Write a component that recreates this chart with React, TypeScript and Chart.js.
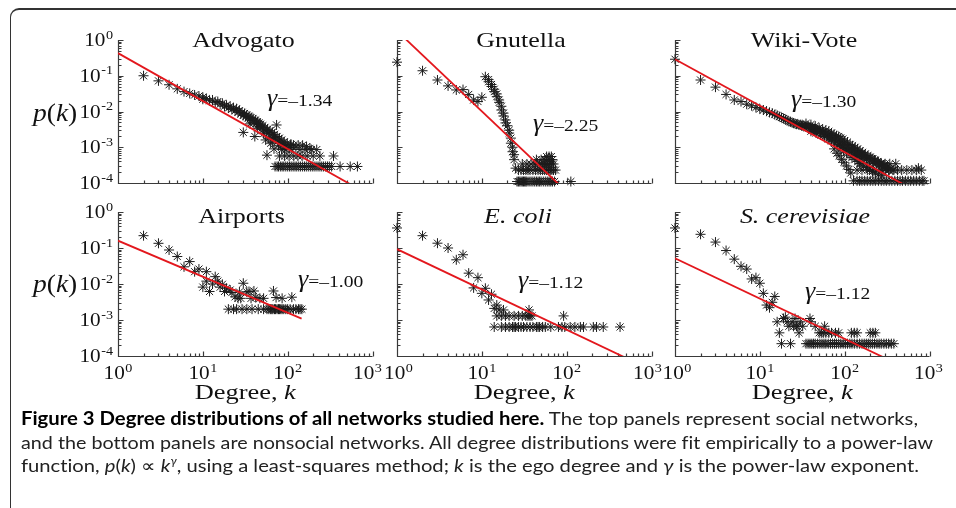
import { useEffect, useLayoutEffect, useRef } from 'react';
import { Chart, registerables } from 'chart.js';
Chart.register(...registerables);

// ---------------- data ----------------
const X_DECADES = [1, 10, 100, 1000];
const X_EXP = ['0', '1', '2', '3'];
const Y_DECADES = [1e-4, 1e-3, 1e-2, 1e-1, 1];
const Y_EXP = ['-4', '-3', '-2', '-1', '0'];
const MINOR_STEPS = [2, 3, 4, 5, 6, 7, 8, 9];

const TITLES = ['Advogato', 'Gnutella', 'Wiki-Vote', 'Airports', 'E. coli', 'S. cerevisiae'];
const GAMMAS = [-1.34, -2.25, -1.3, -1.0, -1.12, -1.12];
const FIT_AMPLITUDE = [0.43, 1.8, 0.29, 0.16, 0.093, 0.052];
const FIT_K_RANGE: [number, number][] = [[1, 1000], [1, 100], [1, 1000], [1, 146], [1, 1000], [1, 1000]];

const ADVOGATO: [number, number][] = [
  [2, 0.10], [3, 0.072], [4, 0.056], [5, 0.043], [6, 0.036], [7, 0.032], [8, 0.029], [9, 0.027], [10, 0.025], [10, 0.022],
  [11, 0.023], [12, 0.020], [13, 0.021], [14, 0.018], [15, 0.019], [16, 0.016], [17, 0.017], [18, 0.014], [19, 0.015], [20, 0.0125],
  [21, 0.014], [22, 0.0115], [23, 0.0125], [24, 0.0105], [25, 0.012], [26, 0.0095], [27, 0.0105], [28, 0.0085], [29, 0.0095], [30, 0.0078],
  [30, 0.0026], [31, 0.0088], [32, 0.0072], [33, 0.008], [34, 0.0066], [35, 0.0074], [36, 0.0061], [37, 0.0068], [38, 0.0056], [39, 0.0064],
  [40, 0.005], [41, 0.002], [42, 0.0058], [43, 0.0046], [44, 0.0052], [45, 0.0042], [46, 0.0048], [47, 0.0038], [48, 0.0044], [50, 0.0035],
  [51, 0.004], [52, 0.0031], [54, 0.0036], [55, 0.0016], [56, 0.0028], [57, 0.0006], [58, 0.0032], [60, 0.0025], [62, 0.0029], [63, 0.0013],
  [64, 0.0022], [66, 0.0026], [68, 0.0019], [69, 0.0009], [70, 0.0023], [72, 0.0017], [74, 0.0042], [75, 0.002], [77, 0.0015], [80, 0.0018],
  [82, 0.0013], [85, 0.0016], [88, 0.0012], [91, 0.0014], [95, 0.0011], [99, 0.0013], [104, 0.00098], [110, 0.0012], [117, 0.00115], [125, 0.001],
  [133, 0.00115], [167, 0.00104], [183, 0.00093], [36, 0.0045], [44, 0.0034], [52, 0.0024], [60, 0.0018], [66, 0.0014], [78, 0.0011], [92, 0.0009],
];
const ADVOGATO_LEVELS = [0.00029, 0.00057, 0.00086, 0.00114];
const ADVOGATO_LEVEL_K = [
  [71, 75, 78, 82, 86, 90, 95, 100, 105, 110, 116, 122, 128, 135, 142, 150, 158, 166, 175, 185, 195, 205, 216, 228, 240, 252, 265, 280, 295, 310, 330, 415, 546, 664],
  [80, 92, 104, 118, 132, 148, 170, 200, 240, 347],
  [85, 96, 112, 140, 160, 190, 220],
  [88, 108, 150],
];

const GNUTELLA: [number, number][] = [
  [1, 0.24], [2, 0.138], [3, 0.076], [4, 0.052], [5, 0.04], [6, 0.041], [7, 0.03], [8, 0.021], [9, 0.019], [10, 0.025],
  [11, 0.094], [12, 0.078], [12, 0.068], [13, 0.057], [13, 0.05], [14, 0.042], [14, 0.036], [15, 0.031], [15, 0.026], [16, 0.021],
  [16, 0.018], [17, 0.014], [17, 0.011], [18, 0.009], [18, 0.0075], [19, 0.0058], [19, 0.0048], [20, 0.004], [21, 0.003], [21, 0.0025],
  [22, 0.0018], [22, 0.0013], [23, 0.001], [23, 0.00075], [24, 0.00062], [24, 0.00045], [25, 0.00026],
];
const GNUTELLA_LEVELS = [0.00011, 0.00023, 0.00034, 0.00045, 0.00055];
const GNUTELLA_LEVEL_K = [
  [26, 27, 28, 29, 30, 31, 32, 33, 34, 36, 38, 40, 42, 44, 46, 48, 50, 53, 56, 59, 62, 65, 68, 72, 112],
  [27, 29, 31, 33, 35, 37, 40, 43, 46, 49, 52, 55, 58, 61, 64, 67, 70, 74],
  [30, 34, 38, 42, 45, 48, 51, 54, 57, 60, 63, 66, 70],
  [44, 50, 55, 60, 64, 68],
  [58, 62, 66],
];

const WIKIVOTE: [number, number][] = [
  [1, 0.29], [2, 0.076], [3, 0.048], [4, 0.03], [5, 0.021], [6, 0.019], [7, 0.016], [8, 0.0145], [9, 0.013], [10, 0.0118],
  [11, 0.011], [12, 0.0102], [13, 0.0094], [14, 0.009], [15, 0.0082], [16, 0.0078], [17, 0.0072], [18, 0.0068], [19, 0.0064], [20, 0.006],
  [21, 0.0056], [22, 0.0053], [23, 0.0052], [24, 0.0049], [25, 0.0047], [26, 0.0046], [27, 0.0044], [28, 0.0045], [29, 0.0042], [30, 0.0043],
  [31, 0.004], [32, 0.0041], [33, 0.0038], [34, 0.004], [35, 0.0037], [36, 0.0039], [37, 0.0036], [38, 0.0037], [39, 0.0034], [40, 0.0036],
  [41, 0.0033], [42, 0.0034], [43, 0.0031], [44, 0.0033], [45, 0.003], [46, 0.0032], [47, 0.0028], [48, 0.003], [50, 0.0027], [52, 0.0029],
  [54, 0.0025], [56, 0.0027], [58, 0.0023], [60, 0.0025], [62, 0.0021], [64, 0.0023], [66, 0.0019], [68, 0.0021], [70, 0.0017], [72, 0.0019],
  [75, 0.0016], [78, 0.0018], [81, 0.0014], [84, 0.0016], [87, 0.0012], [90, 0.0014], [94, 0.0011], [98, 0.0013], [102, 0.00095], [106, 0.0011],
  [110, 0.00085], [115, 0.00095], [120, 0.00075], [125, 0.00085], [130, 0.00065], [135, 0.00075], [140, 0.0006], [146, 0.0007], [152, 0.00055], [158, 0.00062],
  [165, 0.0005], [172, 0.00058], [180, 0.00046], [188, 0.00052], [196, 0.00042], [205, 0.00048], [215, 0.00038], [225, 0.00044], [235, 0.00035], [245, 0.0004],
  [256, 0.00032], [268, 0.00036], [280, 0.00028], [292, 0.00032], [305, 0.00025], [320, 0.00028], [335, 0.00023], [350, 0.00025], [370, 0.00023],
  [75, 0.0009], [81, 0.00068], [86, 0.00058], [92, 0.00046], [98, 0.00038], [105, 0.0003], [112, 0.00024], [118, 0.00019], [740, 0.00026],
];
const WIKIVOTE_UPPER: [number, number][] = [
  [35, 0.0046], [40, 0.0043], [45, 0.0039], [50, 0.0035], [55, 0.0032], [60, 0.003], [65, 0.0028], [70, 0.0025], [75, 0.0023], [80, 0.0021],
  [85, 0.002], [90, 0.0018], [95, 0.0017], [100, 0.0015], [108, 0.0014], [116, 0.0012], [124, 0.0011], [133, 0.001], [142, 0.0009], [152, 0.0008],
  [163, 0.00072], [175, 0.00065], [188, 0.00058], [200, 0.00053], [215, 0.00048], [230, 0.00043], [250, 0.00038], [270, 0.00034], [290, 0.0003], [310, 0.00027],
];
const WIKIVOTE_LOWER: [number, number][] = [
  [40, 0.0028], [46, 0.0025], [52, 0.0022], [58, 0.002], [64, 0.0017], [70, 0.0015], [76, 0.0013], [83, 0.0011], [90, 0.00095], [97, 0.0008],
  [105, 0.0007], [113, 0.0006], [122, 0.00052], [132, 0.00045], [143, 0.0004], [155, 0.00035], [168, 0.0003], [182, 0.00027], [197, 0.00024], [213, 0.00021],
  [230, 0.00019], [250, 0.00017], [275, 0.00016], [100, 0.0012], [110, 0.001], [120, 0.0009], [130, 0.0008], [140, 0.0007], [150, 0.00062], [160, 0.00056],
];
const WIKIVOTE_LEVELS = [0.000115, 0.00023, 0.000345];
const WIKIVOTE_LEVEL_K = [
  [127, 140, 150, 160, 172, 185, 200, 215, 230, 250, 270, 290, 310, 335, 360, 390, 420, 450, 480, 520, 560, 600, 650, 700, 760, 820, 860],
  [140, 160, 185, 210, 240, 270, 300, 330, 380, 420, 470, 540, 620, 700, 800],
  [150, 180, 220, 260, 300, 340, 400],
];

const AIRPORTS: [number, number][] = [
  [2, 0.22], [3, 0.135], [4, 0.088], [5, 0.058], [6, 0.03], [7, 0.042], [8, 0.022], [9, 0.026], [10, 0.0082], [11, 0.022],
  [11, 0.012], [12, 0.0062], [13, 0.01], [14, 0.016], [15, 0.012], [16, 0.0082], [17, 0.0098], [18, 0.0062], [19, 0.0076], [21, 0.0068],
  [22, 0.0058], [24, 0.0044], [26, 0.004], [27, 0.006], [28, 0.004], [30, 0.0105], [33, 0.006], [35, 0.0062], [37, 0.004], [40, 0.0064],
  [42, 0.0042], [47, 0.004], [52, 0.004], [68, 0.0064], [73, 0.0042], [86, 0.004], [112, 0.0043],
];
const AIRPORTS_LEVELS = [0.002];
const AIRPORTS_LEVEL_K = [
  [20, 23, 25, 29, 33, 38, 45, 52, 57, 60, 63, 65, 67, 70, 72, 75, 78, 80, 83, 86, 90, 95, 100, 107, 117, 125, 134, 140, 147],
];

const ECOLI: [number, number][] = [
  [1, 0.36], [2, 0.22], [3, 0.136], [4, 0.1], [5, 0.047], [6, 0.065], [7, 0.02], [8, 0.0078], [9, 0.015], [10, 0.0055],
  [11, 0.0076], [12, 0.0036], [13, 0.0052], [14, 0.0021], [15, 0.0026], [16, 0.0019], [18, 0.0019], [36, 0.0019], [92, 0.0013],
];
const ECOLI_LEVELS = [0.00064, 0.0013];
const ECOLI_LEVEL_K = [
  [14, 17, 19, 21, 23, 24, 25, 27, 29, 31, 34, 37, 40, 44, 46, 48, 52, 56, 65, 80, 88, 95, 110, 125, 145, 158, 206, 225, 270, 426],
  [15, 17, 19, 21, 24, 27, 30, 33, 35, 37, 39],
];

const SCEREVISIAE: [number, number][] = [
  [1, 0.36], [2, 0.24], [3, 0.146], [4, 0.085], [5, 0.049], [6, 0.031], [7, 0.026], [8, 0.0138], [9, 0.015], [10, 0.0105],
  [11, 0.0055], [12, 0.0026], [13, 0.0022], [14, 0.0031], [15, 0.0045], [16, 0.00089], [17, 0.00044], [18, 0.00022], [19, 0.0011], [20, 0.0012],
  [21, 0.00089], [22, 0.00067], [23, 0.00022], [24, 0.00089], [25, 0.00067], [26, 0.0011], [27, 0.00067], [28, 0.00067], [29, 0.00044], [30, 0.00089],
  [32, 0.00067], [39, 0.0011],
];
const SCEREVISIAE_LEVELS = [0.00022, 0.00044, 0.00067, 0.00089];
const SCEREVISIAE_LEVEL_K = [
  [35, 37, 39, 41, 43, 45, 48, 51, 54, 57, 60, 64, 68, 72, 76, 80, 85, 90, 96, 102, 108, 115, 122, 130, 140, 150, 160, 170, 180, 190, 200, 212, 225, 240, 255, 270, 290, 310, 330, 355, 380],
  [50, 53, 56, 60, 65, 70, 78, 85, 120, 130, 140, 200, 215, 230],
  [45, 58],
  [40],
];

const CAPTION_BOLD = 'Figure 3 Degree distributions of all networks studied here.';
const CAPTION_L1 = ' The top panels represent social networks,';
const CAPTION_L2 = 'and the bottom panels are nonsocial networks. All degree distributions were fit empirically to a power-law';

// ---------------- layout / style ----------------
const SERIF = '"Liberation Serif", "Times New Roman", serif';
const SX = 1.18;
const INK = '#111';
const AXIS = '#3a3a3a';
const RED = '#e3171d';
const MARK = '#1c1c1c';

type Layout = {
  area: [number, number, number, number];
  title: [number, number];
  italic: boolean;
  gamma: [number, number];
  yLabels: boolean;
  xLabels: boolean;
  pkY: number;
  xLabelShift: [number, number];
};
const LAYOUTS: Layout[] = [
  { area: [118, 40, 372.5, 183], title: [243.5, 47], italic: false, gamma: [267, 106], yLabels: true, xLabels: false, pkY: 120.5, xLabelShift: [0, 0] },
  { area: [397, 40, 651.5, 183], title: [521, 47], italic: false, gamma: [533, 131], yLabels: false, xLabels: false, pkY: 0, xLabelShift: [0, 0] },
  { area: [675, 40, 929.5, 183], title: [804, 47], italic: false, gamma: [791, 107], yLabels: false, xLabels: false, pkY: 0, xLabelShift: [0, 0] },
  { area: [118, 212, 372.5, 356], title: [241.5, 223], italic: false, gamma: [298, 286.5], yLabels: true, xLabels: true, pkY: 292, xLabelShift: [0, -5] },
  { area: [397, 212, 651.5, 356], title: [518, 223], italic: true, gamma: [518, 288], yLabels: false, xLabels: true, pkY: 0, xLabelShift: [1.5, -4] },
  { area: [675, 212, 929.5, 356], title: [805, 223], italic: true, gamma: [805, 299], yLabels: false, xLabels: true, pkY: 0, xLabelShift: [2, -1] },
];

const SERIES: [number, number][][][] = [[ADVOGATO], [GNUTELLA], [WIKIVOTE, WIKIVOTE_UPPER, WIKIVOTE_LOWER], [AIRPORTS], [ECOLI], [SCEREVISIAE]];
const SERIES_LEVELS = [ADVOGATO_LEVELS, GNUTELLA_LEVELS, WIKIVOTE_LEVELS, AIRPORTS_LEVELS, ECOLI_LEVELS, SCEREVISIAE_LEVELS];
const SERIES_LEVEL_K = [ADVOGATO_LEVEL_K, GNUTELLA_LEVEL_K, WIKIVOTE_LEVEL_K, AIRPORTS_LEVEL_K, ECOLI_LEVEL_K, SCEREVISIAE_LEVEL_K];

// ---------------- text helpers ----------------
function measure(ctx: CanvasRenderingContext2D, s: string, font: string) {
  ctx.save();
  ctx.font = font;
  const w = ctx.measureText(s).width;
  ctx.restore();
  return w;
}
function txt(ctx: CanvasRenderingContext2D, s: string, x: number, y: number, font: string, sx: number) {
  ctx.save();
  ctx.font = font;
  ctx.textAlign = 'left';
  ctx.textBaseline = 'alphabetic';
  ctx.fillStyle = INK;
  ctx.translate(x, y);
  ctx.scale(sx, 1);
  ctx.fillText(s, 0, 0);
  ctx.restore();
  return measure(ctx, s, font) * sx;
}
const F10 = `18px ${SERIF}`;
const FEXP = `12px ${SERIF}`;
function powWidth(ctx: CanvasRenderingContext2D, e: string) {
  return measure(ctx, '10', F10) * SX + 0.5 + measure(ctx, e, FEXP) * SX;
}
function drawPow(ctx: CanvasRenderingContext2D, e: string, left: number, base: number) {
  const w = txt(ctx, '10', left, base, F10, SX);
  txt(ctx, e, left + w + 0.5, base - 7.5, FEXP, SX);
}

function makePlugin(idx: number) {
  const L = LAYOUTS[idx];
  return {
    id: 'panelDecor' + idx,
    beforeDatasetsDraw(chart: any) {
      const { ctx, chartArea: a, scales } = chart;
      const xs = scales.x, ys = scales.y;
      const left = Math.round(a.left) + 0.5;
      const bottom = Math.round(a.bottom) + 0.5;
      ctx.save();
      ctx.strokeStyle = AXIS;
      ctx.lineWidth = 1.2;
      ctx.beginPath();
      ctx.moveTo(left, a.top);
      ctx.lineTo(left, bottom);
      ctx.lineTo(a.right, bottom);
      Y_DECADES.forEach((d, i) => {
        const py = Math.round(ys.getPixelForValue(d)) + 0.5;
        ctx.moveTo(left, py);
        ctx.lineTo(left + 5, py);
        if (i < Y_DECADES.length - 1) {
          MINOR_STEPS.forEach((m) => {
            const p = Math.round(ys.getPixelForValue(d * m)) + 0.5;
            ctx.moveTo(left, p);
            ctx.lineTo(left + 3, p);
          });
        }
      });
      X_DECADES.forEach((d, i) => {
        const px = Math.round(xs.getPixelForValue(d)) + 0.5;
        ctx.moveTo(px, bottom);
        ctx.lineTo(px, bottom - 5);
        if (i < X_DECADES.length - 1) {
          MINOR_STEPS.forEach((m) => {
            const p = Math.round(xs.getPixelForValue(d * m)) + 0.5;
            ctx.moveTo(p, bottom);
            ctx.lineTo(p, bottom - 3);
          });
        }
      });
      ctx.stroke();
      ctx.restore();
    },
    afterDraw(chart: any) {
      const { ctx, chartArea: a, scales } = chart;
      const xs = scales.x, ys = scales.y;
      const tFont = `${L.italic ? 'italic ' : ''}22px ${SERIF}`;
      const tw = measure(ctx, TITLES[idx], tFont) * SX;
      txt(ctx, TITLES[idx], L.title[0] - tw / 2, L.title[1], tFont, SX);
      const gw = txt(ctx, 'γ', L.gamma[0], L.gamma[1], `italic 26px ${SERIF}`, 1);
      const gs = '=–' + Math.abs(GAMMAS[idx]).toFixed(2);
      txt(ctx, gs, L.gamma[0] + gw, L.gamma[1], `17px ${SERIF}`, 1.15);
      if (L.yLabels) {
        Y_DECADES.forEach((d, i) => {
          const py = ys.getPixelForValue(d);
          const w = powWidth(ctx, Y_EXP[i]);
          drawPow(ctx, Y_EXP[i], a.left - 5 - w, py + 6);
        });
        let x = 33;
        const fi = `italic 25px ${SERIF}`, fn = `25px ${SERIF}`;
        x += txt(ctx, 'p', x, L.pkY, fi, 1.1);
        x += txt(ctx, '(', x, L.pkY, fn, 1.1);
        x += txt(ctx, 'k', x, L.pkY, fi, 1.1);
        txt(ctx, ')', x, L.pkY, fn, 1.1);
      }
      if (L.xLabels) {
        X_DECADES.forEach((d, i) => {
          let px = xs.getPixelForValue(d);
          if (i === 0) px += L.xLabelShift[0];
          if (i === X_DECADES.length - 1) px += L.xLabelShift[1];
          const w = powWidth(ctx, X_EXP[i]);
          drawPow(ctx, X_EXP[i], px - w / 2, 379);
        });
        const fn = `22px ${SERIF}`, fi = `italic 22px ${SERIF}`;
        const w = (measure(ctx, 'Degree, ', fn) + measure(ctx, 'k', fi)) * 1.2;
        const cx = (a.left + a.right) / 2;
        const x0 = cx - w / 2;
        const w1 = txt(ctx, 'Degree, ', x0, 399, fn, 1.2);
        txt(ctx, 'k', x0 + w1, 399, fi, 1.2);
      }
    },
  };
}

function Panel({ idx }: { idx: number }) {
  const ref = useRef<HTMLCanvasElement>(null);
  useEffect(() => {
    const L = LAYOUTS[idx];
    const pts: { x: number; y: number }[] = [];
    SERIES[idx].forEach((arr) => arr.forEach(([k, p]) => pts.push({ x: k, y: p })));
    SERIES_LEVELS[idx].forEach((lv, j) => {
      SERIES_LEVEL_K[idx][j].forEach((k) => pts.push({ x: k, y: lv }));
    });
    const [k0, k1] = FIT_K_RANGE[idx];
    const fit = [
      { x: k0, y: FIT_AMPLITUDE[idx] * Math.pow(k0, GAMMAS[idx]) },
      { x: k1, y: FIT_AMPLITUDE[idx] * Math.pow(k1, GAMMAS[idx]) },
    ];
    const chart = new Chart(ref.current!, {
      type: 'scatter',
      data: {
        datasets: [
          {
            type: 'line',
            data: fit,
            borderColor: RED,
            borderWidth: 1.8,
            pointRadius: 0,
            fill: false,
          } as any,
          {
            type: 'scatter',
            data: pts,
            pointStyle: 'star',
            pointRadius: 5,
            pointBorderColor: MARK,
            pointBorderWidth: 1,
            pointBackgroundColor: 'transparent',
            clip: false,
          } as any,
        ],
      },
      options: {
        animation: false,
        responsive: false,
        maintainAspectRatio: false,
        events: [],
        layout: {
          padding: { left: L.area[0], top: L.area[1], right: 956 - L.area[2], bottom: 508 - L.area[3] },
        },
        plugins: { legend: { display: false }, tooltip: { enabled: false } },
        scales: {
          x: { type: 'logarithmic', min: 1, max: 1000, display: false },
          y: { type: 'logarithmic', min: 1e-4, max: 1, display: false },
        },
      },
      plugins: [makePlugin(idx)],
    });
    return () => chart.destroy();
  }, [idx]);
  return (
    <canvas
      ref={ref}
      width={956}
      height={508}
      style={{ position: 'absolute', left: 0, top: 0, width: 956, height: 508 }}
    />
  );
}

const CAPTION_LEFT = 21;
const CAPTION_TARGET_W = [897, 912, 898];
const CAPTION_BASELINES = [425, 448.5, 472];
const CAPTION_FONT = 18;

export default function App() {
  const lineRefs = useRef<(HTMLSpanElement | null)[]>([]);
  useLayoutEffect(() => {
    lineRefs.current.forEach((el, i) => {
      if (!el) return;
      el.style.transform = 'none';
      const w = el.getBoundingClientRect().width;
      el.style.transform = `scaleX(${CAPTION_TARGET_W[i] / w})`;
    });
  }, []);
  const capStyle = (i: number): React.CSSProperties => ({
    position: 'absolute',
    left: CAPTION_LEFT,
    top: CAPTION_BASELINES[i] - CAPTION_FONT * 0.887,
    display: 'inline-block',
    whiteSpace: 'nowrap',
    fontFamily: 'Lato, "Noto Sans", sans-serif',
    fontSize: CAPTION_FONT,
    lineHeight: `${CAPTION_FONT}px`,
    fontVariantLigatures: 'none',
    color: '#222',
    transformOrigin: 'left top',
  });
  return (
    <div
      style={{
        position: 'fixed',
        left: 0,
        top: 0,
        width: 956,
        height: 508,
        background: '#fff',
        overflow: 'hidden',
      }}
    >
      <div
        style={{
          position: 'absolute',
          left: 10,
          top: 8,
          width: 1000,
          height: 600,
          borderTop: '2px solid #333',
          borderLeft: '1.5px solid #333',
          borderTopLeftRadius: 9,
        }}
      />
      {LAYOUTS.map((_, i) => (
        <Panel key={i} idx={i} />
      ))}
      <span ref={(el) => { lineRefs.current[0] = el; }} style={capStyle(0)}>
        <b style={{ color: '#000' }}>{CAPTION_BOLD}</b>
        {CAPTION_L1}
      </span>
      <span ref={(el) => { lineRefs.current[1] = el; }} style={capStyle(1)}>
        {CAPTION_L2}
      </span>
      <span ref={(el) => { lineRefs.current[2] = el; }} style={capStyle(2)}>
        function, <i>p</i>(<i>k</i>) ∝ <i>k</i>
        <sup style={{ fontSize: 11, lineHeight: 0 }}>
          <i>γ</i>
        </sup>
        , using a least-squares method; <i>k</i> is the ego degree and <i>γ</i> is the power-law exponent.
      </span>
    </div>
  );
}
